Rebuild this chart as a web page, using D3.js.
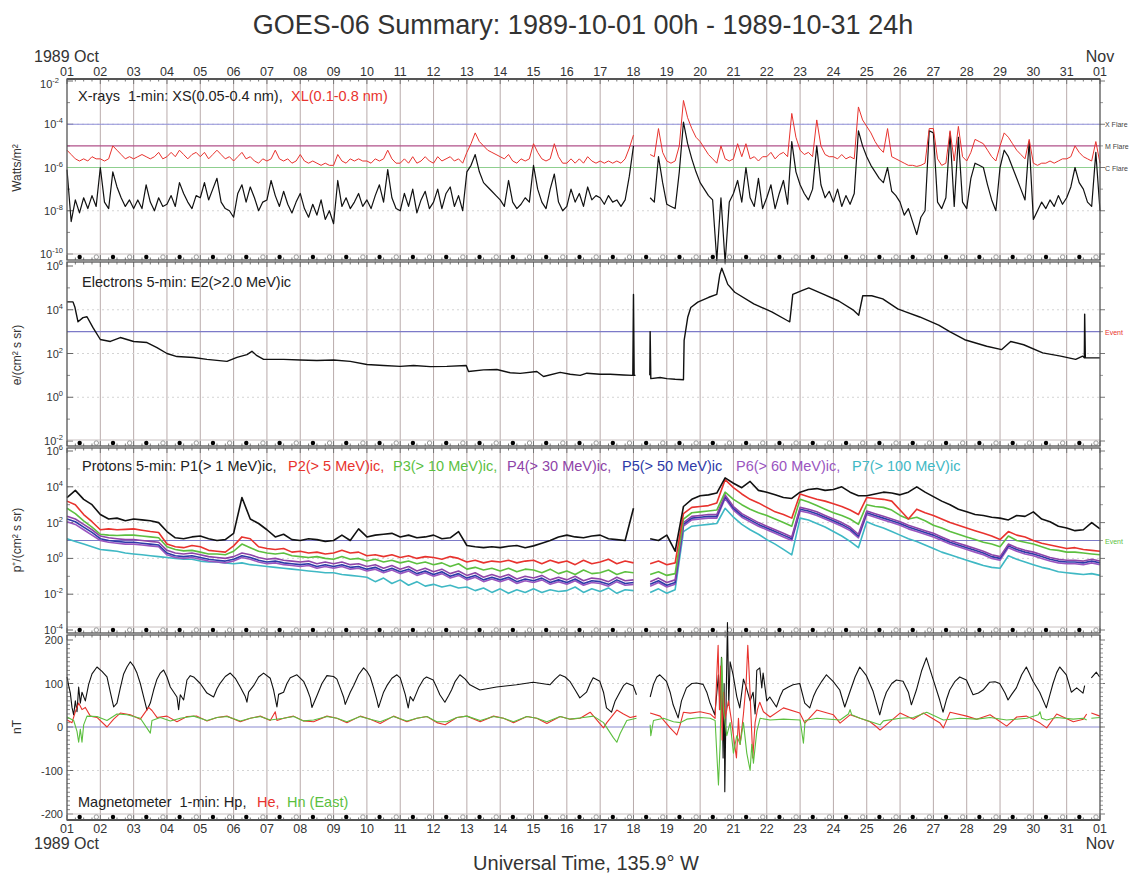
<!DOCTYPE html>
<html>
<head>
<meta charset="utf-8">
<title>GOES-06 Summary</title>
<script src="https://cdn.jsdelivr.net/npm/d3@7"></script>
<style>
  body { margin: 0; background: #fff; }
  svg { display: block; font-family: "Liberation Sans", Arial, Helvetica, sans-serif; }
  .legend { white-space: pre; }
</style>
</head>
<body>
<div id="chart"></div>
<script>
// all times are days since 1989-10-01 00h UT

// ---- X-rays, log10(W/m^2), one value every 3 hours (0.125 d) ----
var xrayStep = 0.125;
var xsLog = [
  -6.1,-8.5,-7.5,-8.1,-7.4,-7.9,-7.3,-7.8,  -6.0,-7.6,-7.9,-6.2,-6.9,-7.4,-7.8,-7.5,
  -7.9,-7.5,-7.9,-6.8,-7.6,-8.0,-7.4,-7.8,  -7.7,-7.3,-7.8,-6.7,-7.2,-7.6,-7.9,-7.3,
  -7.4,-6.7,-7.5,-7.0,-6.5,-7.6,-7.9,-8.0,  -8.3,-7.2,-6.8,-7.6,-6.9,-7.4,-8.0,-7.6,
  -7.5,-6.6,-7.3,-7.8,-7.1,-7.7,-8.1,-7.6,  -7.2,-7.9,-8.3,-7.7,-8.2,-7.5,-8.4,-8.0,
  -8.6,-6.6,-7.8,-7.4,-7.9,-7.6,-7.2,-7.8,  -7.5,-7.9,-7.3,-6.8,-7.6,-6.1,-7.4,-7.9,
  -8.0,-7.2,-7.8,-7.0,-8.1,-7.5,-7.1,-7.9,  -7.6,-7.0,-7.9,-7.2,-6.9,-7.8,-7.3,-8.0,
  -6.2,-5.9,-5.4,-6.2,-6.7,-6.9,-7.1,-7.3,  -7.5,-7.8,-6.6,-7.6,-7.9,-7.7,-7.4,-7.6,
  -5.9,-7.0,-7.6,-7.9,-7.0,-6.3,-7.6,-8.0,  -7.8,-7.0,-7.6,-7.2,-7.8,-6.9,-7.5,-7.3,
  -7.4,-7.7,-7.3,-7.6,-7.5,-7.8,-7.5,-6.4,  -5.0,null,null,null,-7.4,-7.6,-5.5,-6.7,
  -7.7,-7.8,-7.9,-6.2,-3.9,-4.9,-5.6,-6.2,  -6.7,-7.0,-7.3,-7.5,-10.3,-7.4,-10.4,-7.6,
  -7.2,-6.6,-7.6,-6.0,-7.4,-7.8,-6.5,-7.9,  -7.4,-6.8,-7.9,-7.2,-6.6,-7.7,-4.8,-6.2,
  -6.8,-7.2,-7.5,-7.0,-5.0,-6.8,-7.4,-7.1,  -7.6,-7.0,-7.8,-7.3,-7.7,-7.2,-4.3,-5.0,
  -5.5,-5.9,-6.2,-6.5,-6.7,-6.0,-7.1,-7.3,  -7.6,-8.2,-7.9,-8.5,-9.1,-8.3,-8.0,-4.3,
  -4.4,-7.6,-7.9,-7.4,-4.4,-7.8,-4.6,-7.6,  -7.9,-6.5,-5.8,-5.9,-6.0,-6.8,-7.5,-8.0,
  -6.0,-5.2,-5.5,-6.0,-6.5,-7.0,-7.5,-4.8,  -8.4,-8.0,-7.6,-7.9,-7.5,-7.8,-7.3,-7.7,
  -7.4,-6.9,-6.0,-6.7,-7.0,-7.6,-7.8,-5.3,  -8.0
];
var xlLog = [
  -5.2,-5.4,-5.6,-5.7,-5.6,-5.7,-5.5,-5.6,  -5.6,-5.7,-5.6,-5.0,-5.2,-5.4,-5.6,-5.5,
  -5.6,-5.5,-5.4,-5.5,-5.6,-5.5,-5.3,-5.6,  -5.5,-5.3,-5.5,-5.2,-5.4,-5.6,-5.4,-5.3,
  -5.5,-5.3,-5.6,-5.4,-5.2,-5.4,-5.6,-5.5,  -5.7,-5.5,-5.3,-5.6,-5.5,-5.7,-5.8,-5.6,
  -5.7,-5.6,-5.2,-5.6,-5.7,-5.6,-5.8,-5.7,  -5.4,-5.7,-5.8,-5.7,-5.8,-5.9,-5.8,-5.9,
  -5.9,-5.4,-5.7,-5.8,-5.6,-5.7,-5.6,-5.7,  -5.7,-5.8,-5.6,-5.7,-5.6,-5.2,-5.6,-5.8,
  -5.8,-5.6,-5.8,-5.5,-5.8,-5.7,-5.5,-5.7,  -5.8,-5.5,-5.7,-5.6,-5.5,-5.7,-5.6,-5.8,
  -5.3,-4.9,-4.4,-4.8,-5.0,-5.2,-5.3,-5.4,  -5.5,-5.6,-5.4,-5.7,-5.8,-5.6,-5.7,-5.6,
  -4.9,-5.3,-5.6,-5.7,-5.6,-4.9,-5.5,-5.8,  -5.8,-5.6,-5.8,-5.6,-5.8,-5.5,-5.7,-5.8,
  -5.7,-5.8,-5.7,-5.8,-5.7,-5.8,-5.6,-5.1,  -4.5,null,null,null,-5.4,-5.5,-4.2,-5.3,
  -5.7,-5.8,-5.7,-5.0,-2.9,-3.7,-4.2,-4.6,  -4.8,-5.1,-5.4,-5.6,-5.8,-5.0,-5.6,-5.7,
  -5.6,-4.9,-5.5,-4.9,-5.6,-5.5,-5.7,-5.5,  -5.5,-5.3,-5.6,-5.4,-5.3,-5.5,-3.5,-4.6,
  -5.2,-5.4,-5.3,-5.5,-3.8,-5.0,-5.4,-5.5,  -5.5,-5.6,-5.4,-5.6,-5.5,-5.6,-3.2,-3.8,
  -4.1,-4.4,-4.8,-5.1,-5.3,-4.2,-5.5,-5.6,  -5.7,-5.8,-5.9,-5.9,-5.95,-5.9,-5.8,-4.2,
  -4.2,-5.6,-5.9,-5.8,-4.3,-5.7,-4.1,-5.5,  -5.7,-5.3,-4.7,-4.8,-4.9,-5.2,-5.5,-5.7,
  -5.0,-4.4,-4.6,-4.9,-5.2,-5.4,-5.6,-4.7,  -5.8,-5.9,-5.8,-5.8,-5.7,-5.8,-5.7,-5.6,
  -5.6,-5.5,-5.0,-5.3,-5.5,-5.6,-5.7,-4.8,  -5.8
];

// ---- Electrons E2 (>2 MeV), [t, log10 flux] ----
var e2Log = [
  [0.0,4.36],[0.18,4.36],[0.24,4.1],[0.33,3.45],[0.48,3.64],[0.6,3.68],[0.78,3.18],[1.0,2.64],
  [1.3,2.55],[1.6,2.73],[1.8,2.64],[2.0,2.55],[2.4,2.5],[2.7,2.27],[3.0,2.0],[3.3,1.86],
  [3.8,1.82],[4.2,1.73],[4.8,1.64],[5.1,1.82],[5.4,1.95],[5.55,2.1],[5.7,1.9],[5.9,1.73],
  [6.5,1.73],[7.0,1.7],[7.5,1.68],[8.0,1.7],[8.5,1.64],[9.0,1.5],[9.5,1.45],[10.0,1.41],
  [10.4,1.45],[10.9,1.4],[11.4,1.41],[11.98,1.45],[12.05,1.18],[12.5,1.25],[12.9,1.27],
  [13.3,1.12],[13.6,1.09],[14.1,1.18],[14.3,0.95],[14.8,1.14],[15.1,1.05],[15.4,1.0],
  [15.6,1.1],[16.0,1.05],[16.3,1.05],[16.7,1.02],[16.98,1.0],[17.0,4.7],[17.02,1.0],
  [17.06,1.0],[17.07,null],[17.49,1.0],[17.5,3.0],[17.52,0.85],[17.8,0.9],[18.0,0.85],
  [18.25,0.82],[18.5,0.8],[18.52,2.6],[18.63,3.67],[18.72,4.1],[18.93,4.35],[19.26,4.57],
  [19.5,4.7],[19.59,5.6],[19.65,5.9],[19.83,5.16],[20.04,4.8],[20.61,4.27],[21.15,3.9],
  [21.6,3.52],[21.69,3.45],[21.78,4.7],[22.05,4.87],[22.26,5.0],[22.71,4.7],[23.16,4.4],
  [23.61,3.97],[23.76,3.75],[23.88,4.64],[24.15,4.64],[24.48,4.5],[24.93,4.04],[25.17,3.9],
  [25.59,3.67],[26.16,3.3],[26.49,3.0],[26.94,2.63],[27.6,2.33],[28.05,2.18],[28.32,2.55],
  [28.71,2.4],[29.28,2.03],[29.82,1.88],[30.27,1.73],[30.48,1.88],[30.53,1.8],[30.54,3.8],
  [30.56,1.8],[30.75,1.8],[31.0,1.8]
];

// ---- Protons P1..P7, log10 flux, one value every 6 hours (0.25 d) ----
var protonStep = 0.25;
var p1Log = [
  3.4,3.8,3.3,3.0, 2.45,2.2,2.25,2.1, 2.2,2.15,2.1,2.0, 1.5,1.15,1.1,1.2,
  1.25,1.1,1.0,1.05, 1.4,3.4,2.2,1.95, 1.6,1.2,1.35,1.05, 1.0,1.1,1.05,0.95,
  1.0,1.3,1.0,1.65, 1.2,1.3,1.35,1.4, 1.2,1.3,1.15,1.2, 1.3,1.1,1.15,1.5,
  0.72,0.65,0.6,0.65, 0.6,0.68,0.72,0.6, 0.7,0.85,1.0,1.2, 1.3,1.2,1.15,1.25,
  1.3,1.1,1.05,1.0, 2.8,null,1.1,1.0, 1.3,0.4,2.9,3.3, 3.5,3.55,3.65,4.5,
  4.2,3.95,4.3,3.8, 3.7,3.55,3.4,3.35, 3.7,3.85,3.9,3.8, 3.85,4.0,3.7,3.5,
  3.5,3.6,3.7,3.65, 3.55,3.7,4.0,3.7, 3.45,3.2,3.0,2.75, 2.6,2.45,2.4,2.3,
  2.25,2.15,2.4,2.35, 2.6,2.2,2.05,1.8, 1.7,1.55,1.6,2.0, 1.65
];
var p2Log = [
  3.2,3.0,2.45,2.05, 1.6,1.65,1.6,1.62, 1.65,1.57,1.5,1.45, 0.8,0.65,0.6,0.72,
  0.65,0.45,0.4,0.35, 0.7,1.2,1.1,0.65, 0.55,0.5,0.55,0.35, 0.4,0.3,0.35,0.25,
  0.3,0.45,0.3,0.35, 0.15,0.2,0.1,0.2, 0.05,0.15,0.0,0.1, 0.05,-0.05,0.1,0.0,
  -0.2,-0.1,-0.25,-0.15, -0.2,-0.1,-0.25,-0.15, -0.1,-0.3,-0.1,-0.25, -0.15,-0.35,-0.1,-0.3,
  -0.2,-0.05,-0.3,-0.15, -0.25,null,-0.3,-0.15, -0.35,-0.25,2.5,2.85, 2.9,2.95,3.1,4.4,
  3.95,3.6,3.3,3.1, 2.85,2.6,2.45,2.25, 3.6,3.45,3.3,3.2, 3.05,2.9,2.7,2.45,
  3.4,3.35,3.3,3.2, 2.7,2.2,2.75,2.55, 2.4,2.2,2.0,1.85, 1.7,1.55,1.4,1.25,
  1.05,1.5,1.3,1.2, 1.0,0.85,0.75,0.65, 0.55,0.6,0.5,0.45, 0.4
];
var p3Log = [
  2.8,2.5,2.1,1.75, 1.35,1.3,1.28,1.3, 1.3,1.25,1.2,1.15, 0.65,0.5,0.42,0.45,
  0.35,0.25,0.25,0.2, 0.4,0.8,0.6,0.4, 0.3,0.25,0.3,0.15, 0.1,0.05,0.1,0.0,
  -0.05,0.1,-0.05,0.0, -0.15,-0.05,-0.2,-0.1, -0.25,-0.15,-0.3,-0.2, -0.35,-0.25,-0.45,-0.3,
  -0.6,-0.5,-0.65,-0.55, -0.7,-0.55,-0.75,-0.6, -0.65,-0.8,-0.6,-0.85, -0.7,-0.9,-0.65,-0.85,
  -0.8,-0.65,-0.9,-0.75, -0.8,null,-0.9,-0.75, -0.95,-0.85,2.2,2.55, 2.6,2.65,2.7,3.7,
  3.3,3.0,2.75,2.55, 2.4,2.2,2.0,1.8, 3.3,3.15,2.95,2.75, 2.55,2.4,2.2,1.9,
  3.0,2.9,2.85,2.7, 2.4,2.2,2.3,2.1, 1.85,1.7,1.5,1.35, 1.2,1.05,0.9,0.8,
  0.65,1.25,1.0,0.9, 0.8,0.65,0.5,0.45, 0.35,0.35,0.3,0.25, 0.2
];
var p4Log = [
  2.35,2.2,1.9,1.6, 1.25,1.15,1.1,1.05, 1.05,1.0,0.95,0.9, 0.45,0.3,0.25,0.3,
  0.2,0.1,0.05,0.0, 0.1,0.3,0.2,0.05, -0.05,0.0,-0.1,-0.15, -0.2,-0.15,-0.3,-0.2,
  -0.3,-0.2,-0.35,-0.3, -0.45,-0.35,-0.55,-0.4, -0.6,-0.45,-0.7,-0.55, -0.75,-0.6,-0.85,-0.7,
  -0.95,-0.8,-1.05,-0.9, -1.05,-0.9,-1.15,-1.0, -1.1,-0.95,-1.2,-1.05, -1.2,-1.0,-1.25,-1.1,
  -1.15,-1.3,-1.05,-1.25, -1.2,null,-1.3,-1.1, -1.35,-1.2,2.0,2.35, 2.4,2.45,2.45,3.55,
  2.9,2.5,2.25,2.0, 1.8,1.6,1.4,1.2, 2.85,2.75,2.6,2.4, 2.2,2.0,1.75,1.35,
  2.65,2.5,2.35,2.2, 2.05,1.85,1.7,1.55, 1.4,1.2,1.0,0.85, 0.7,0.55,0.4,0.2,
  0.1,0.8,0.6,0.45, 0.35,0.2,0.05,-0.05, -0.1,-0.1,-0.15,-0.05, -0.15
];
var p5Log = [
  2.2,2.05,1.75,1.45, 1.1,1.0,0.95,0.9, 0.9,0.85,0.8,0.75, 0.3,0.15,0.1,0.15,
  0.05,-0.05,-0.1,-0.15, -0.05,0.15,0.05,-0.1, -0.2,-0.15,-0.25,-0.3, -0.35,-0.3,-0.45,-0.35,
  -0.45,-0.35,-0.5,-0.45, -0.6,-0.5,-0.7,-0.55, -0.75,-0.6,-0.85,-0.7, -0.9,-0.75,-1.0,-0.85,
  -1.1,-0.95,-1.2,-1.05, -1.2,-1.05,-1.3,-1.15, -1.25,-1.1,-1.35,-1.2, -1.35,-1.15,-1.4,-1.25,
  -1.3,-1.45,-1.2,-1.4, -1.35,null,-1.45,-1.25, -1.5,-1.35,1.9,2.25, 2.3,2.35,2.35,3.45,
  2.8,2.4,2.15,1.9, 1.7,1.5,1.3,1.1, 2.75,2.65,2.5,2.3, 2.1,1.9,1.65,1.25,
  2.55,2.4,2.25,2.1, 1.95,1.75,1.6,1.45, 1.3,1.1,0.9,0.75, 0.6,0.45,0.3,0.1,
  0.0,0.7,0.5,0.35, 0.25,0.1,-0.05,-0.15, -0.2,-0.2,-0.25,-0.15, -0.25
];
var p6Log = [
  2.05,1.9,1.6,1.3, 1.0,0.9,0.85,0.8, 0.8,0.75,0.7,0.65, 0.2,0.05,0.0,0.05,
  -0.05,-0.15,-0.2,-0.25, -0.15,0.05,-0.05,-0.2, -0.3,-0.25,-0.35,-0.4, -0.45,-0.4,-0.55,-0.45,
  -0.55,-0.45,-0.6,-0.55, -0.7,-0.6,-0.8,-0.65, -0.85,-0.7,-0.95,-0.8, -1.0,-0.85,-1.1,-0.95,
  -1.2,-1.05,-1.3,-1.15, -1.3,-1.15,-1.4,-1.25, -1.35,-1.2,-1.45,-1.3, -1.45,-1.25,-1.5,-1.35,
  -1.4,-1.55,-1.3,-1.5, -1.45,null,-1.55,-1.35, -1.6,-1.45,1.8,2.15, 2.2,2.25,2.25,3.35,
  2.7,2.3,2.05,1.8, 1.6,1.4,1.2,1.0, 2.65,2.55,2.4,2.2, 2.0,1.8,1.55,1.15,
  2.45,2.3,2.15,2.0, 1.85,1.65,1.5,1.35, 1.2,1.0,0.8,0.65, 0.5,0.35,0.2,0.0,
  -0.1,0.6,0.4,0.25, 0.15,0.0,-0.15,-0.25, -0.3,-0.3,-0.35,-0.25, -0.35
];
var p7Log = [
  1.1,0.95,0.8,0.65, 0.5,0.45,0.4,0.3, 0.25,0.2,0.15,0.1, 0.05,0.0,-0.05,-0.05,
  -0.15,-0.2,-0.2,-0.25, -0.3,-0.25,-0.35,-0.4, -0.45,-0.5,-0.55,-0.6, -0.65,-0.7,-0.75,-0.8,
  -0.8,-0.9,-0.95,-1.0, -1.05,-1.3,-1.1,-1.4, -1.2,-1.5,-1.3,-1.55, -1.45,-1.6,-1.5,-1.65,
  -1.6,-1.8,-1.65,-1.9, -1.7,-1.95,-1.75,-1.9, -1.7,-1.9,-1.75,-1.85, -1.8,-1.6,-1.9,-1.7,
  -1.85,-1.65,-1.95,-1.75, -1.8,null,-1.9,-1.7, -1.95,-1.75,1.5,1.8, 1.85,1.9,1.95,2.8,
  2.3,1.9,1.6,1.35, 1.05,0.8,0.5,0.2, 2.25,2.15,1.95,1.75, 1.5,1.25,0.95,0.6,
  2.05,1.85,1.7,1.5, 1.3,1.1,0.95,0.75, 0.55,0.35,0.2,0.05, -0.1,-0.25,-0.4,-0.5,
  -0.55,0.15,-0.05,-0.2, -0.35,-0.5,-0.6,-0.75, -0.8,-0.85,-0.9,-0.85, -0.95
];

// ---- Magnetometer, [t, nT] ----
var hpData = [
  [0.0,115],[0.05,95],[0.1,78],[0.15,45],[0.2,28],[0.25,60],[0.3,35],[0.35,92],[0.4,55],[0.45,80],
  [0.55,60],[0.65,98],[0.75,122],[0.9,138],[1.05,128],[1.2,115],[1.3,80],[1.4,46],[1.5,55],[1.6,90],
  [1.7,122],[1.8,138],[1.9,150],[2.0,140],[2.1,124],[2.2,100],[2.3,69],[2.4,39],[2.5,55],[2.6,85],
  [2.7,110],[2.8,124],[2.9,131],[3.0,115],[3.1,92],[3.3,69],[3.35,40],[3.4,74],[3.5,62],[3.6,108],
  [3.7,118],[3.8,115],[4.0,100],[4.2,78],[4.4,69],[4.5,88],[4.6,101],[4.75,116],[4.9,124],[5.05,112],
  [5.2,92],[5.35,70],[5.4,57],[5.45,80],[5.6,95],[5.75,115],[5.9,124],[6.1,112],[6.2,85],[6.3,46],
  [6.35,75],[6.5,80],[6.6,100],[6.7,113],[6.9,120],[7.1,105],[7.2,88],[7.3,67],[7.35,45],[7.5,72],
  [7.65,100],[7.8,118],[8.0,116],[8.1,110],[8.2,90],[8.3,69],[8.35,52],[8.5,80],[8.6,95],[8.75,120],
  [8.9,136],[9.0,128],[9.1,115],[9.2,90],[9.3,62],[9.35,45],[9.5,80],[9.6,95],[9.75,112],[9.9,120],
  [10.0,113],[10.15,75],[10.24,44],[10.3,70],[10.39,60],[10.55,90],[10.7,110],[10.79,115],[10.99,108],
  [11.1,90],[11.19,74],[11.34,57],[11.45,72],[11.54,85],[11.65,105],[11.79,120],[11.95,110],[12.09,97],
  [12.39,85],[12.89,92],[13.49,97],[13.99,103],[14.49,97],[14.65,110],[14.79,120],[14.95,115],
  [15.09,105],[15.25,85],[15.39,67],[15.59,80],[15.7,100],[15.79,113],[15.99,105],[16.1,80],
  [16.19,44],[16.34,34],[16.45,60],[16.59,80],[16.7,95],[16.79,101],[16.99,95],[17.09,74],[17.1,null],
  [17.5,69],[17.6,98],[17.7,115],[17.79,120],[17.99,105],[18.1,80],[18.19,51],[18.34,21],[18.44,60],
  [18.59,90],[18.75,100],[18.89,101],[19.09,98],[19.2,80],[19.29,57],[19.44,28],[19.55,120],[19.6,40],
  [19.64,160],[19.69,-71],[19.72,100],[19.74,-149],[19.78,60],[19.82,240],[19.86,50],[19.9,150],
  [19.99,120],[20.1,70],[20.19,44],[20.3,110],[20.39,90],[20.5,60],[20.59,80],[20.65,30],[20.7,130],
  [20.79,136],[20.85,90],[20.89,124],[21.0,60],[21.09,69],[21.29,46],[21.4,70],[21.49,85],[21.65,92],
  [21.79,97],[21.99,100],[22.14,55],[22.29,44],[22.4,70],[22.49,85],[22.65,105],[22.79,120],[22.99,105],
  [23.19,85],[23.34,46],[23.49,80],[23.65,115],[23.79,138],[23.99,118],[24.19,82],[24.39,28],[24.5,60],
  [24.59,80],[24.75,100],[24.89,108],[25.09,105],[25.25,80],[25.34,51],[25.49,85],[25.65,130],[25.79,159],
  [25.99,110],[26.19,62],[26.29,34],[26.4,65],[26.49,85],[26.65,105],[26.79,115],[26.99,108],[27.19,74],
  [27.35,78],[27.49,85],[27.69,103],[27.85,104],[27.99,100],[28.15,78],[28.24,62],[28.35,75],[28.49,90],
  [28.65,120],[28.79,138],[28.99,105],[29.19,80],[29.39,44],[29.5,75],[29.59,100],[29.7,125],[29.79,138],
  [29.99,120],[30.14,80],[30.3,90],[30.49,78],[30.54,95],[30.55,null],[30.74,113],[30.89,126],[30.99,115]
];
var heData = [
  [0.0,16],[0.15,10],[0.25,35],[0.35,55],[0.45,40],[0.55,45],[0.7,25],[0.9,22],[1.2,0],[1.4,18],
  [1.6,32],[1.9,28],[2.2,18],[2.45,45],[2.55,38],[2.7,22],[3.0,25],[3.3,12],[3.6,24],[3.9,25],
  [4.2,14],[4.5,22],[4.8,25],[5.2,12],[5.5,20],[5.8,25],[6.1,15],[6.25,35],[6.3,15],[6.5,20],
  [6.8,25],[7.1,14],[7.4,12],[7.8,25],[8.1,20],[8.4,10],[8.8,25],[9.1,18],[9.4,8],[9.8,25],
  [10.2,12],[10.5,20],[10.8,24],[11.1,10],[11.35,5],[11.7,22],[12.0,25],[12.4,12],[12.8,25],
  [13.1,20],[13.4,10],[13.8,24],[14.1,20],[14.4,8],[14.8,24],[15.1,18],[15.4,20],[15.7,34],
  [16.1,-2],[16.2,10],[16.5,39],[16.7,30],[16.9,22],[17.09,25],[17.1,null],[17.5,32],[17.8,25],
  [18.1,-2],[18.3,-18],[18.4,5],[18.5,34],[18.7,32],[19.0,35],[19.3,30],[19.45,20],[19.5,120],
  [19.54,188],[19.58,40],[19.62,140],[19.66,-30],[19.7,80],[19.75,20],[19.85,60],[19.95,10],
  [20.0,-20],[20.09,-71],[20.15,20],[20.2,-40],[20.3,30],[20.38,100],[20.43,188],[20.48,110],
  [20.53,20],[20.58,-71],[20.65,10],[20.72,40],[20.79,57],[20.9,35],[21.1,23],[21.5,44],[21.99,32],
  [22.14,9],[22.5,39],[23.0,28],[23.2,9],[23.5,28],[24.1,12],[24.3,0],[24.4,-7],[25.0,32],[25.4,18],
  [25.7,32],[26.2,9],[26.3,-2],[26.5,34],[27.0,25],[27.3,18],[27.7,28],[28.2,2],[28.5,23],[28.8,25],
  [29.2,9],[29.4,-2],[29.7,30],[30.2,12],[30.5,18],[30.6,30],[30.62,null],[30.74,32],[31.0,25]
];
var hnData = [
  [0.0,23],[0.2,15],[0.3,-10],[0.35,-35],[0.4,-5],[0.45,-35],[0.5,5],[0.6,25],[0.9,24],[1.2,15],
  [1.5,30],[1.8,28],[2.2,20],[2.5,-14],[2.55,15],[2.8,22],[3.1,14],[3.4,20],[3.8,25],[4.2,15],
  [4.5,22],[4.8,24],[5.2,14],[5.5,20],[5.8,24],[6.1,16],[6.5,20],[6.8,24],[7.1,14],[7.4,16],
  [7.8,24],[8.1,20],[8.4,12],[8.8,24],[9.1,18],[9.4,12],[9.8,24],[10.2,14],[10.5,20],[10.8,24],
  [11.1,12],[11.4,12],[11.7,22],[12.0,25],[12.4,15],[12.8,24],[13.1,20],[13.4,12],[13.8,24],
  [14.1,20],[14.4,12],[14.8,24],[15.1,18],[15.5,22],[15.8,25],[16.1,10],[16.4,-25],[16.5,-35],
  [16.6,-15],[16.8,15],[17.09,20],[17.1,null],[17.5,5],[17.52,-20],[17.6,15],[17.9,20],[18.2,12],
  [18.4,10],[18.6,18],[19.0,22],[19.3,20],[19.45,15],[19.5,-60],[19.55,-133],[19.6,-40],[19.65,159],
  [19.7,40],[19.8,-20],[19.9,10],[20.0,-60],[20.1,-20],[20.2,-40],[20.3,10],[20.4,-60],[20.5,-100],
  [20.55,-40],[20.6,-83],[20.7,-10],[20.8,20],[21.1,16],[21.5,18],[22.0,16],[22.1,-37],[22.15,15],
  [22.5,20],[23.2,16],[23.45,30],[23.5,40],[23.55,28],[23.8,20],[24.4,5],[24.5,14],[25.0,20],
  [25.4,22],[25.8,34],[26.3,16],[26.8,20],[27.3,18],[27.7,22],[28.2,16],[28.8,20],[29.15,28],
  [29.2,35],[29.25,20],[29.4,16],[29.7,22],[30.2,18],[30.5,20],[30.6,16],[30.62,null],[30.74,20],
  [31.0,22]
];

// local midnight (filled) and local noon (open) at 135.9 W
var localMidnight = [0.38,1.38,2.38,3.38,4.38,5.38,6.38,7.38,8.38,9.38,10.38,11.38,12.38,13.38,14.38,
  15.38,16.38,17.38,18.38,19.38,20.38,21.38,22.38,23.38,24.38,25.38,26.38,27.38,28.38,29.38,30.38];
var localNoon = [0.88,1.88,2.88,3.88,4.88,5.88,6.88,7.88,8.88,9.88,10.88,11.88,12.88,13.88,14.88,
  15.88,16.88,17.88,18.88,19.88,20.88,21.88,22.88,23.88,24.88,25.88,26.88,27.88,28.88,29.88,30.88];
var dayLabels = ["01","02","03","04","05","06","07","08","09","10","11","12","13","14","15","16",
  "17","18","19","20","21","22","23","24","25","26","27","28","29","30","31","01"];

// ---------------------------------------------------------------
var W = 1132, H = 875, L = 67, R = 1100;
var svg = d3.select("#chart").append("svg").attr("width", W).attr("height", H);
svg.append("rect").attr("width", W).attr("height", H).attr("fill", "#fff");

var x = d3.scaleLinear().domain([0, 31]).range([L, R]);

function stepSeries(vals, step) {
  return vals.map(function(v, i) { return [i * step, v]; });
}

var panels = [
  { top: 79, bottom: 260, y: d3.scaleLog().domain([1e-10, 1e-2]).range([254, 81]),
    log: true, labels: [-10, -8, -6, -4, -2], minor: [-9, -7, -5, -3], title: "Watts/m²", titleY: 168 },
  { top: 262, bottom: 446, y: d3.scaleLog().domain([1e-2, 1e6]).range([441, 266]),
    log: true, labels: [-2, 0, 2, 4, 6], minor: [-1, 1, 3, 5], title: "e/(cm² s sr)", titleY: 355 },
  { top: 448, bottom: 633, y: d3.scaleLog().domain([1e-4, 1e6]).range([630, 451]),
    log: true, labels: [-4, -2, 0, 2, 4, 6], minor: [-3, -1, 1, 3, 5], title: "p⁺/(cm² s sr)", titleY: 540 },
  { top: 635, bottom: 820, y: d3.scaleLinear().domain([-200, 200]).range([814, 640]),
    log: false, labels: [-200, -100, 0, 100, 200], minor: d3.range(-190, 200, 10), title: "nT", titleY: 727 }
];

var gridColor = "#b9abab";

panels.forEach(function(p, pi) {
  var g = svg.append("g");
  // day grid
  g.selectAll(".vg").data(d3.range(1, 31)).enter().append("line")
    .attr("x1", function(d) { return x(d); }).attr("x2", function(d) { return x(d); })
    .attr("y1", p.top).attr("y2", p.bottom)
    .attr("stroke", gridColor).attr("stroke-width", 1);
  // dotted horizontal grid
  var hvals = p.log ? p.labels.slice(1, -1).map(function(e) { return Math.pow(10, e); }) : [-100, 100];
  g.selectAll(".hg").data(hvals).enter().append("line")
    .attr("x1", L).attr("x2", R)
    .attr("y1", function(d) { return p.y(d); }).attr("y2", function(d) { return p.y(d); })
    .attr("stroke", "#d4d4d4").attr("stroke-dasharray", "2,3");
  // left ticks
  var yv = function(e) { return p.log ? p.y(Math.pow(10, e)) : p.y(e); };
  g.selectAll(".lt").data(p.labels).enter().append("line")
    .attr("x1", L).attr("x2", L + 6).attr("y1", yv).attr("y2", yv).attr("stroke", "#666");
  g.selectAll(".lm").data(p.minor).enter().append("line")
    .attr("x1", L).attr("x2", L + 3).attr("y1", yv).attr("y2", yv).attr("stroke", "#888");
  // right ticks (outside)
  g.selectAll(".rt").data(p.labels).enter().append("line")
    .attr("x1", R).attr("x2", R + 5).attr("y1", yv).attr("y2", yv).attr("stroke", "#777");
  g.selectAll(".rm").data(p.minor).enter().append("line")
    .attr("x1", R).attr("x2", R + 3).attr("y1", yv).attr("y2", yv).attr("stroke", "#999");
  // top/bottom time ticks every 6 h
  var tt = d3.range(0, 31.01, 0.25);
  [p.top, p.bottom].forEach(function(yy, k) {
    g.selectAll(null).data(tt).enter().append("line")
      .attr("x1", function(d) { return x(d); }).attr("x2", function(d) { return x(d); })
      .attr("y1", yy)
      .attr("y2", function(d) { var s = (d % 1 === 0) ? 5 : 2.5; return k === 0 ? yy + s : yy - s; })
      .attr("stroke", "#777");
  });
  // tick labels (the top one of panel 1 is nudged clear of the day labels)
  var first = function(i) { return pi === 0 && i === p.labels.length - 1; };
  var lab = g.selectAll(".tl").data(p.labels).enter().append("text")
    .attr("x", function(d, i) { return first(i) ? L - 8 : L - 4; })
    .attr("y", function(d, i) { return yv(d) + (first(i) ? 7 : 4); })
    .attr("text-anchor", "end").attr("font-size", 11).attr("fill", "#333");
  if (p.log) {
    lab.append("tspan").text("10");
    lab.append("tspan").attr("dy", -5).attr("font-size", 7.5).text(function(d) { return d; });
  } else {
    lab.text(function(d) { return d; });
  }
  // axis title
  svg.append("text").attr("transform", "translate(21," + p.titleY + ") rotate(-90)")
    .attr("text-anchor", "middle").attr("font-size", 12).attr("fill", "#333").text(p.title);
  // local noon / midnight markers
  var dy = p.bottom - 3;
  g.append("line").attr("x1", L).attr("x2", R).attr("y1", p.bottom - 6).attr("y2", p.bottom - 6)
    .attr("stroke", "#c8c0c0");
  g.selectAll(".mn").data(localMidnight).enter().append("circle")
    .attr("cx", function(d) { return x(d); }).attr("cy", dy).attr("r", 2.2).attr("fill", "#000");
  g.selectAll(".nn").data(localNoon).enter().append("circle")
    .attr("cx", function(d) { return x(d); }).attr("cy", dy).attr("r", 2.2)
    .attr("fill", "#fff").attr("stroke", "#999").attr("stroke-width", 1);
  p.g = g;
});

function logLine(p) {
  return d3.line()
    .defined(function(d) { return d[1] !== null; })
    .x(function(d) { return x(d[0]); })
    .y(function(d) { return p.y(Math.pow(10, d[1])); });
}
function drawLine(p, data, color, width, gen) {
  p.g.append("path").datum(data).attr("d", gen).attr("fill", "none")
    .attr("stroke", color).attr("stroke-width", width).attr("stroke-linejoin", "round");
}
function hline(p, val, color) {
  p.g.append("line").attr("x1", L).attr("x2", R).attr("y1", p.y(val)).attr("y2", p.y(val))
    .attr("stroke", color).attr("stroke-width", 1.2);
}
function rightLabel(p, val, txt, color) {
  svg.append("text").attr("x", R + 5).attr("y", p.y(val) + 3).attr("font-size", 7)
    .attr("fill", color).text(txt);
}

var red = "#e8332e", green = "#5cbf3f", black = "#111";

// ---- panel 1: X-rays ----
var p = panels[0];
hline(p, 1e-4, "#8f8fd8");
hline(p, 1e-5, "#b0508a");
hline(p, 1e-6, "#8fcf8f");
rightLabel(p, 1e-4, "X Flare", "#444");
rightLabel(p, 1e-5, "M Flare", "#444");
rightLabel(p, 1e-6, "C Flare", "#444");
drawLine(p, stepSeries(xsLog, xrayStep), black, 1.2, logLine(p));
drawLine(p, stepSeries(xlLog, xrayStep), red, 1, logLine(p));

// ---- panel 2: electrons ----
p = panels[1];
hline(p, 1e3, "#7c7ac8");
rightLabel(p, 1e3, "Event", red);
drawLine(p, e2Log, black, 1.4, logLine(p));

// ---- panel 3: protons ----
p = panels[2];
hline(p, 1e1, "#7c7ac8");
rightLabel(p, 1e1, "Event", green);
var protons = [
  [p7Log, "#3fb8c4"], [p6Log, "#9a55c0"], [p5Log, "#2e3aa8"], [p4Log, "#8e44a8"],
  [p3Log, green], [p2Log, red], [p1Log, black]
];
protons.forEach(function(c) { drawLine(p, stepSeries(c[0], protonStep), c[1], 1.6, logLine(p)); });

// ---- panel 4: magnetometer ----
p = panels[3];
hline(p, 0, "#8a8ad0");
var linGen = d3.line()
  .defined(function(d) { return d[1] !== null; })
  .x(function(d) { return x(d[0]); })
  .y(function(d) { return panels[3].y(d[1]); });
drawLine(p, hpData, black, 1.1, linGen);
drawLine(p, heData, red, 1.1, linGen);
drawLine(p, hnData, green, 1.1, linGen);

// frames
panels.forEach(function(p, i) {
  svg.append("rect").attr("x", L).attr("y", p.top).attr("width", R - L).attr("height", p.bottom - p.top)
    .attr("fill", "none").attr("stroke", "#555").attr("stroke-width", 1.3);
});
svg.append("line").attr("x1", L).attr("x2", R).attr("y1", panels[0].top).attr("y2", panels[0].top)
  .attr("stroke", "#555").attr("stroke-width", 2.2);
svg.append("line").attr("x1", L).attr("x2", R).attr("y1", panels[3].bottom).attr("y2", panels[3].bottom)
  .attr("stroke", "#555").attr("stroke-width", 2.2);

// panel legends
function legend(yy, parts) {
  var t = svg.append("text").attr("class", "legend").attr("y", yy).attr("font-size", 14.5);
  parts.forEach(function(s) {
    t.append("tspan").attr("x", s[0]).attr("fill", s[2]).text(s[1]);
  });
}
legend(101, [[78, "X-rays  1-min: XS(0.05-0.4 nm),", "#222"], [291, "XL(0.1-0.8 nm)", red]]);
legend(287, [[82, "Electrons 5-min: E2(>2.0 MeV)ic", "#222"]]);
legend(471, [[82, "Protons 5-min: P1(> 1 MeV)ic,", "#222"], [288, "P2(> 5 MeV)ic,", red],
  [393, "P3(> 10 MeV)ic,", green], [507, "P4(> 30 MeV)ic,", "#8e44a8"], [622, "P5(> 50 MeV)ic", "#2e3aa8"],
  [736, "P6(> 60 MeV)ic,", "#9a55c0"], [852, "P7(> 100 MeV)ic", "#3fb8c4"]]);
legend(807, [[78, "Magnetometer  1-min: Hp,", "#222"], [257, "He,", red], [287, "Hn (East)", green]]);

// time axes, top and bottom
[[76, 62], [833, 849]].forEach(function(a) {
  svg.selectAll(null).data(dayLabels).enter().append("text")
    .attr("x", function(d, i) { return x(i); }).attr("y", a[0])
    .attr("text-anchor", "middle").attr("font-size", 12.5).attr("fill", "#333")
    .text(function(d) { return d; });
  svg.append("text").attr("x", 34).attr("y", a[1]).attr("font-size", 16).attr("fill", "#333").text("1989 Oct");
  svg.append("text").attr("x", x(31)).attr("y", a[1]).attr("text-anchor", "middle")
    .attr("font-size", 16).attr("fill", "#333").text("Nov");
});

svg.append("text").attr("x", 583).attr("y", 34).attr("text-anchor", "middle").attr("font-size", 27)
  .attr("fill", "#333").text("GOES-06 Summary: 1989-10-01 00h - 1989-10-31 24h");
svg.append("text").attr("x", 586).attr("y", 870).attr("text-anchor", "middle").attr("font-size", 20)
  .attr("fill", "#333").text("Universal Time, 135.9° W");
</script>
</body>
</html>
